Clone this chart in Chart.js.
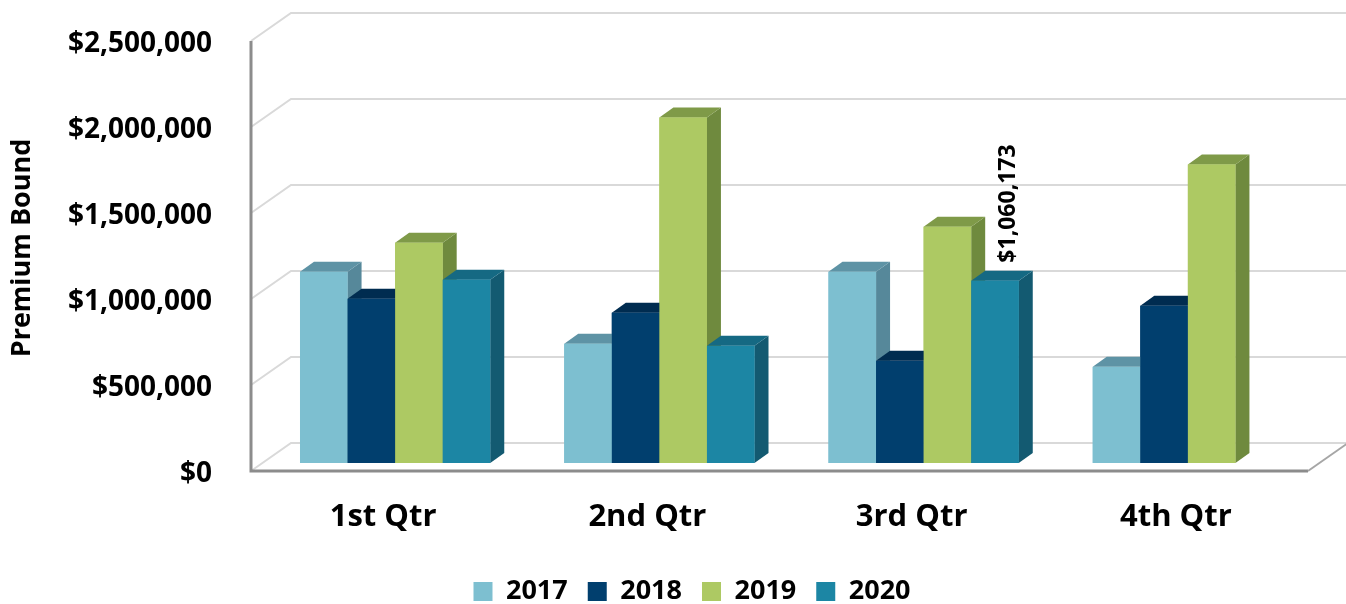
<!DOCTYPE html>
<html lang="en">
<head>
  <meta charset="UTF-8">
  <title>Premium Bound by Quarter</title>
  <script src="https://cdn.jsdelivr.net/npm/chart.js"></script>
  <style>
    html, body {
      margin: 0;
      padding: 0;
      background: #fff;
    }
    #wrap {
      width: 1346px;
      height: 604px;
    }
  </style>
</head>
<body>
  <div id="wrap"><canvas id="premiumChart"></canvas></div>
  <script>
    const quarters = ['1st Qtr', '2nd Qtr', '3rd Qtr', '4th Qtr'];
    const years = ['2017', '2018', '2019', '2020'];
    const values2017 = [1112000, 693000, 1112000, 559000];
    const values2018 = [955000, 874000, 594000, 914000];
    const values2019 = [1281000, 2009000, 1374000, 1736000];
    const values2020 = [1066000, 681000, 1060173, null];
    const yTicks = [0, 500000, 1000000, 1500000, 2000000, 2500000];

    // front, top, side colours per year
    const faceColors = [
      ['#7dbfd0', '#5e93a5', '#56889a'],
      ['#013f6e', '#002c50', '#002a4c'],
      ['#adc963', '#7f9a48', '#6f8a3e'],
      ['#1c86a4', '#156983', '#135a71']
    ];

    const FONT = "'Open Sans', sans-serif";
    const DX = 14, DY = -10;          // bar depth
    const WALL_DX = 28, WALL_DY = -20; // bar plane -> back wall
    const FRONT_DX = -12, FRONT_DY = 8; // bar plane -> front edge

    function money(v) {
      return '$' + Number(v).toLocaleString('en-US');
    }

    const wallPlugin = {
      id: 'wall',
      afterLayout(chart) {
        // legend sits a little right of centre and lower in the original
        if (chart.legend) {
          chart.legend.left += 32;
          chart.legend.right += 32;
          chart.legend.top += 11;
          chart.legend.bottom += 11;
        }
      },
      beforeDatasetsDraw(chart) {
        const ctx = chart.ctx;
        const area = chart.chartArea;
        const y = chart.scales.y;
        ctx.save();
        ctx.strokeStyle = '#d9d9d9';
        ctx.lineWidth = 2;
        yTicks.forEach(v => {
          const py = y.getPixelForValue(v);
          ctx.beginPath();
          ctx.moveTo(area.left + FRONT_DX, py + FRONT_DY);
          ctx.lineTo(area.left + WALL_DX, py + WALL_DY);
          ctx.lineTo(chart.width, py + WALL_DY);
          ctx.stroke();
        });
        // front edges
        const top = y.getPixelForValue(yTicks[yTicks.length - 1]) + FRONT_DY;
        const bottom = y.getPixelForValue(0) + FRONT_DY;
        const x0 = area.left + FRONT_DX;
        const x1 = area.right + FRONT_DX;
        ctx.strokeStyle = '#8c8c8c';
        ctx.lineWidth = 3;
        ctx.beginPath();
        ctx.moveTo(x0, top);
        ctx.lineTo(x0, bottom);
        ctx.lineTo(x1, bottom);
        ctx.stroke();
        ctx.strokeStyle = '#a6a6a6';
        ctx.lineWidth = 2;
        ctx.beginPath();
        ctx.moveTo(x1, bottom);
        ctx.lineTo(x1 + (WALL_DX - FRONT_DX), bottom + (WALL_DY - FRONT_DY));
        ctx.stroke();
        ctx.restore();
      }
    };

    const boxPlugin = {
      id: 'box3d',
      afterDatasetsDraw(chart) {
        const ctx = chart.ctx;
        ctx.save();
        quarters.forEach((q, j) => {
          chart.data.datasets.forEach((ds, i) => {
            if (ds.data[j] == null) return;
            const bar = chart.getDatasetMeta(i).data[j];
            const p = bar.getProps(['x', 'y', 'base', 'width'], true);
            const L = p.x - p.width / 2, R = p.x + p.width / 2;
            const cols = faceColors[i];
            // side
            ctx.fillStyle = cols[2];
            ctx.beginPath();
            ctx.moveTo(R, p.y);
            ctx.lineTo(R + DX, p.y + DY);
            ctx.lineTo(R + DX, p.base + DY);
            ctx.lineTo(R, p.base);
            ctx.closePath();
            ctx.fill();
            // top
            ctx.fillStyle = cols[1];
            ctx.beginPath();
            ctx.moveTo(L, p.y);
            ctx.lineTo(R, p.y);
            ctx.lineTo(R + DX, p.y + DY);
            ctx.lineTo(L + DX, p.y + DY);
            ctx.closePath();
            ctx.fill();
            // front
            ctx.fillStyle = cols[0];
            ctx.fillRect(L, p.y, R - L, p.base - p.y);
          });
        });
        // data label on 3rd Qtr 2020
        const lb = chart.getDatasetMeta(3).data[2];
        ctx.translate(lb.x + DX / 2 + 6, lb.y + DY - 8);
        ctx.rotate(-Math.PI / 2);
        ctx.font = "bold 23px " + FONT;
        ctx.fillStyle = '#000';
        ctx.textAlign = 'left';
        ctx.textBaseline = 'middle';
        ctx.fillText(money(values2020[2]), 0, 0);
        ctx.restore();
      }
    };

    const seriesValues = [values2017, values2018, values2019, values2020];

    new Chart(document.getElementById('premiumChart'), {
      type: 'bar',
      data: {
        labels: quarters,
        datasets: years.map((yr, i) => ({
          label: yr,
          data: seriesValues[i],
          backgroundColor: faceColors[i][0],
          borderWidth: 0,
          categoryPercentage: 0.72,
          barPercentage: 1
        }))
      },
      options: {
        responsive: true,
        maintainAspectRatio: false,
        animation: false,
        layout: { padding: { top: 33, right: 26, left: 0, bottom: 0 } },
        plugins: {
          tooltip: { enabled: false },
          legend: {
            position: 'bottom',
            maxHeight: 58,
            labels: {
              boxWidth: 19,
              boxHeight: 19,
              padding: 20,
              color: '#000',
              font: { family: FONT, size: 27, weight: 'bold' }
            }
          }
        },
        scales: {
          x: {
            grid: { display: false },
            border: { display: false },
            afterFit(scale) { scale.height = 84; },
            ticks: {
              padding: 28,
              labelOffset: -12,
              color: '#000',
              font: { family: FONT, size: 31, weight: 'bold' }
            }
          },
          y: {
            min: 0,
            max: 2500000,
            grid: { display: false },
            border: { display: false },
            afterFit(scale) {
              scale.width = 263;
              scale.paddingTop = 0;
              scale.paddingBottom = 0;
            },
            afterBuildTicks(scale) {
              scale.ticks = yTicks.map(v => ({ value: v }));
            },
            ticks: {
              padding: 43,
              labelOffset: 11,
              color: '#000',
              font: { family: FONT, size: 28, weight: 'bold' },
              callback: v => money(v)
            },
            title: {
              display: true,
              text: 'Premium Bound',
              color: '#000',
              padding: { top: 6, bottom: 0 },
              font: { family: FONT, size: 27, weight: 'bold' }
            }
          }
        }
      },
      plugins: [wallPlugin, boxPlugin]
    });
  </script>
</body>
</html>
